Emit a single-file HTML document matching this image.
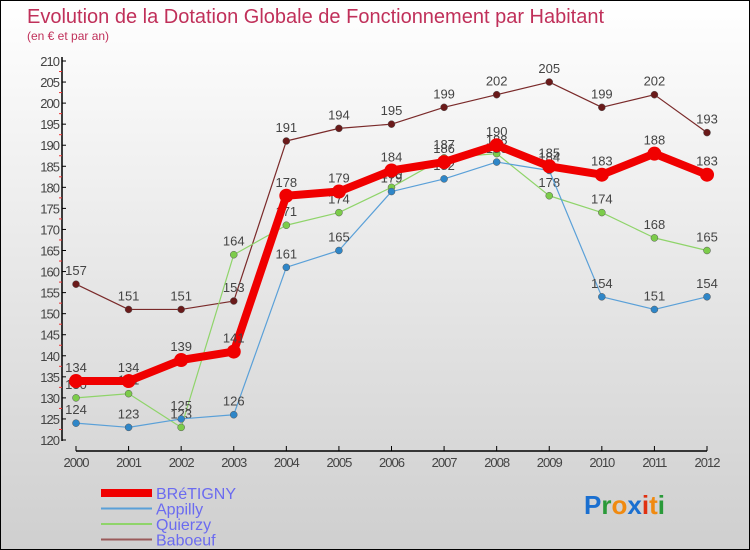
<!DOCTYPE html>
<html><head><meta charset="utf-8"><style>
html,body{margin:0;padding:0}
body{width:750px;height:550px;overflow:hidden;font-family:"Liberation Sans",sans-serif}
#wrap{position:relative;width:748px;height:548px;border:1px solid #000;background:linear-gradient(#fff,#cfcfcf)}
</style></head><body>
<div id="wrap">
<svg id="chart" width="748" height="548" style="position:absolute;left:0;top:0">
<text x="26" y="22" font-size="20" fill="#c0305a">Evolution de la Dotation Globale de Fonctionnement par Habitant</text>
<text x="26" y="39" font-size="12" fill="#c0305a">(en € et par an)</text>
<g id="axes"></g><g id="series"></g><g id="legend"></g>
<text x="583" y="513" font-size="26" font-weight="bold"><tspan fill="#1a6fd0">P</tspan><tspan fill="#2a9a3a">r</tspan><tspan fill="#f08a10">o</tspan><tspan fill="#1a6fd0">x</tspan><tspan fill="#e03010">i</tspan><tspan fill="#f08a10">t</tspan><tspan fill="#2a9a3a">i</tspan></text>
</svg>
</div>
<script>
const years=["2000","2001","2002","2003","2004","2005","2006","2007","2008","2009","2010","2011","2012"];
const bretigny=[134,134,139,141,178,179,184,186,190,185,183,188,183];
const appilly=[124,123,125,126,161,165,179,182,186,184,154,151,154];
const quierzy=[130,131,123,164,171,174,180,187,188,178,174,168,165];
const baboeuf=[157,151,151,153,191,194,195,199,202,205,199,202,193];
const yTicks=[120,125,130,135,140,145,150,155,160,165,170,175,180,185,190,195,200,205,210];
const NS="http://www.w3.org/2000/svg";
const x=i=>75+i*(706-75)/(years.length-1);
const y=v=>439-(v-120)*(379/90);
function mk(p,t,a){const e=document.createElementNS(NS,t);for(const k in a)e.setAttribute(k,a[k]);p.appendChild(e);return e;}
const ax=document.getElementById('axes');
let e=mk(ax,'line',{x1:61,y1:56,x2:61,y2:440,stroke:'#000','stroke-width':1.5});


e=mk(ax,'line',{x1:75,y1:450,x2:706,y2:450,stroke:'#000','stroke-width':1.5});


yTicks.forEach((v,i)=>{
 mk(ax,'line',{x1:61,x2:65,y1:y(v),y2:y(v),stroke:'#000'});
 if(i<yTicks.length-1) mk(ax,'line',{x1:58,x2:61,y1:y(v+2.5),y2:y(v+2.5),stroke:'#e33'});
 const t=mk(ax,'text',{x:58,y:y(v)+5,'text-anchor':'end','font-size':13,fill:'#444','letter-spacing':'-1'});
 t.textContent=v;
 
 
});
years.forEach((yr,i)=>{
 mk(ax,'line',{x1:x(i),x2:x(i),y1:445,y2:450,stroke:'#000'});
 const t=mk(ax,'text',{x:x(i),y:466,'text-anchor':'middle','font-size':13,fill:'#444','letter-spacing':'-1'});
 t.textContent=yr;
 
 
});
const se=document.getElementById('series');
const defs=[
 {d:baboeuf,c:'#7a2a2a',dot:'#6a1a1a',w:1.2,r:3.5,n:'baboeuf'},
 {d:quierzy,c:'#8fd46a',dot:'#7ccc4a',w:1.2,r:3.5,n:'quierzy'},
 {d:appilly,c:'#5aa0d8',dot:'#2e86c8',w:1.2,r:3.5,n:'appilly'},
 {d:bretigny,c:'#f00000',dot:'#f00000',w:8,r:7,n:'bretigny'}];
defs.forEach(s=>{
 const g=mk(se,'g',{});
 
 
 const l=mk(g,'polyline',{points:s.d.map((v,i)=>x(i)+','+y(v)).join(' '),fill:'none',stroke:s.c,'stroke-width':s.w,'stroke-linejoin':'round'});
 
 
 s.d.forEach((v,i)=>{
  const c=mk(g,'circle',{cx:x(i),cy:y(v),r:s.r,fill:s.dot,stroke:s.w>2?'none':'#555','stroke-width':0.5});
  
  
  const t=mk(g,'text',{x:x(i),y:y(v)-9,'text-anchor':'middle','font-size':13,fill:'#444'});
  t.textContent=v;
  
  
 });
});
const lg=document.getElementById('legend');
[['BRéTIGNY','#f00000',8],['Appilly','#5aa0d8',2],['Quierzy','#8fd46a',2],['Baboeuf','#9a5a5a',2]].forEach((it,i)=>{
 const yy=492+i*15.5;
 const g=mk(lg,'g',{});
 
 
 mk(g,'line',{x1:100,x2:151,y1:yy,y2:yy,stroke:it[1],'stroke-width':it[2]});
 const t=mk(g,'text',{x:155,y:yy+6,'font-size':16,fill:'#6b6bf0'});
 t.textContent=it[0];
});
</script>
</body></html>
